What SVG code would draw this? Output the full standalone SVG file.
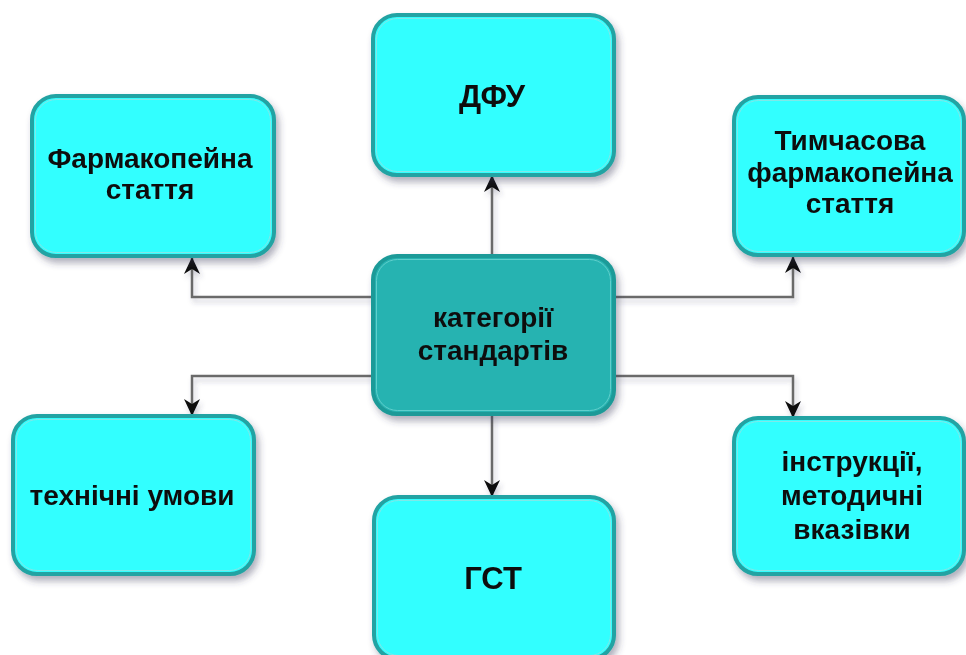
<svg xmlns="http://www.w3.org/2000/svg" width="966" height="655" viewBox="0 0 966 655">
<defs>
<filter id="sh" x="-20%" y="-20%" width="140%" height="150%">
<feDropShadow dx="3" dy="5" stdDeviation="3.5" flood-color="#3a3a5a" flood-opacity="0.4"/>
</filter>
<filter id="lsh" x="-10%" y="-50%" width="120%" height="300%">
<feDropShadow dx="2" dy="4" stdDeviation="2.5" flood-color="#3a3a5a" flood-opacity="0.25"/>
</filter>
<marker id="ah" markerWidth="18" markerHeight="18" refX="16" refY="8" orient="auto" markerUnits="userSpaceOnUse">
<path d="M0,0 L17,8 L0,16 L5,8 Z" fill="#111"/>
</marker>
</defs>
<style>
.box{fill:#33FFFF;stroke:#20A3A3;stroke-width:4}
.inner{fill:none;stroke:#7FE8E8;stroke-width:1}
.cbox{fill:#27B3B1;stroke:#1C9A98;stroke-width:4}
.cinner{fill:none;stroke:#5FCFCC;stroke-width:1}
.t{font-family:"Liberation Sans",Arial,sans-serif;font-weight:bold;font-size:28px;fill:#111;text-anchor:middle}
.big{font-size:31px}
.c{fill:none;stroke:#6b6b6b;stroke-width:2.5;marker-end:url(#ah)}
</style>
<g id="connectors" filter="url(#lsh)">
<path class="c" d="M492,256 V176"/>
<path class="c" d="M373,297 H192 V258"/>
<path class="c" d="M614,297 H793 V257"/>
<path class="c" d="M373,376 H192 V415"/>
<path class="c" d="M614,376 H793 V417"/>
<path class="c" d="M492,414 V496"/>
</g>
<g id="farmakopeina" filter="url(#sh)">
<rect class="box" x="32" y="96" width="242" height="160" rx="24"/>
<rect class="inner" x="35.5" y="99.5" width="235" height="153" rx="21"/>
<text class="t" x="150" y="168">Фармакопейна</text>
<text class="t" x="150" y="199">стаття</text>
</g>
<g id="dfu" filter="url(#sh)">
<rect class="box" x="373" y="15" width="241" height="160" rx="24"/>
<rect class="inner" x="376.5" y="18.5" width="234" height="153" rx="21"/>
<text class="t big" x="492" y="107">ДФУ</text>
</g>
<g id="tymchasova" filter="url(#sh)">
<rect class="box" x="734" y="97" width="230" height="158" rx="24"/>
<rect class="inner" x="737.5" y="100.5" width="223" height="151" rx="21"/>
<text class="t" x="850" y="150">Тимчасова</text>
<text class="t" x="850" y="182">фармакопейна</text>
<text class="t" x="850" y="213">стаття</text>
</g>
<g id="kategorii" filter="url(#sh)">
<rect class="cbox" x="373" y="256" width="241" height="158" rx="24"/>
<rect class="cinner" x="376.5" y="259.5" width="234" height="151" rx="21"/>
<text class="t" x="493" y="327">категорії</text>
<text class="t" x="493" y="360">стандартів</text>
</g>
<g id="tekhnichni" filter="url(#sh)">
<rect class="box" x="13" y="416" width="241" height="158" rx="24"/>
<rect class="inner" x="16.5" y="419.5" width="234" height="151" rx="21"/>
<text class="t" x="132" y="505">технічні умови</text>
</g>
<g id="instruktsii" filter="url(#sh)">
<rect class="box" x="734" y="418" width="230" height="156" rx="24"/>
<rect class="inner" x="737.5" y="421.5" width="223" height="149" rx="21"/>
<text class="t" x="852" y="471">інструкції,</text>
<text class="t" x="852" y="505">методичні</text>
<text class="t" x="852" y="539">вказівки</text>
</g>
<g id="gst" filter="url(#sh)">
<rect class="box" x="374" y="497" width="240" height="162" rx="24"/>
<rect class="inner" x="377.5" y="500.5" width="233" height="155" rx="21"/>
<text class="t big" x="493" y="589">ГСТ</text>
</g>
</svg>
